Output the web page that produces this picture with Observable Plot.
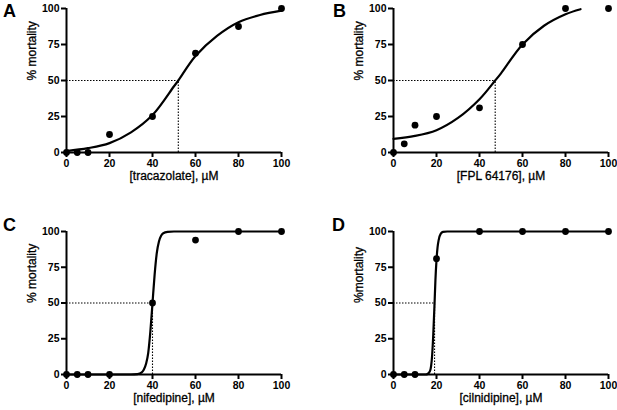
<!DOCTYPE html>
<html><head><meta charset="utf-8">
<script src="https://cdn.jsdelivr.net/npm/d3@7"></script>
<script src="https://cdn.jsdelivr.net/npm/@observablehq/plot@0.6"></script>
<style>
body{margin:0;background:#fff;}
#wrap{position:relative;width:617px;height:410px;overflow:hidden;background:#fff;font-family:"Liberation Sans",Arial,sans-serif;}
.panel{position:absolute;}
.panel svg{overflow:visible;}
.letter{position:absolute;font-weight:bold;font-size:18px;line-height:1;color:#000;}
</style></head><body><div id="wrap"></div>
<script>
// Measured doses (µM)
const dose = [0, 5, 10, 20, 40, 60, 80, 100];
// Observed % mortality
const mortA = [0, 0, 0, 12.5, 25, 69, 87.5, 100];
const mortB = [0, 6, 19, 25, 31, 75, 100, 100];
const mortC = [0, 0, 0, 0, 50, 94, 100, 100];
const mortD = [0, 0, 0, 81, 100, 100, 100, 100];

// Fitted curves
const fitAx = [0, 10, 20, 30, 40, 50, 52, 60, 70, 80, 90, 100];
const fitAy = [1, 3, 6.5, 14, 26, 46, 50, 67, 81, 90.5, 95.5, 98.5];
const fitBx = [0, 10, 20, 30, 40, 47.3, 50, 60, 70, 80, 87];
const fitBy = [9.5, 11.5, 15.5, 24, 37, 50, 55, 75, 88, 96, 99.5];
const fitCx = [0, 30, 33, 35, 36, 37, 38, 39, 40, 41, 42, 43, 44, 45, 47, 50, 100];
const fitCy = [0, 0, 0.3, 1.5, 3.5, 7.5, 15, 30, 50, 70, 85, 93, 97, 98.8, 99.7, 100, 100];
const fitDx = [0, 15, 16, 17, 17.5, 18, 18.5, 19.1, 19.5, 20, 20.5, 21, 22, 23, 25, 100];
const fitDy = [0, 0, 0.5, 2.5, 6, 14, 28, 50, 66, 80, 89, 94, 98.5, 99.7, 100, 100];

// EC50 values (dotted guide lines)
const ec50 = [52, 47.3, 40, 19.1];

const panelLetters = ["A", "B", "C", "D"];
const xTitles = ["[tracazolate], µM", "[FPL 64176], µM", "[nifedipine], µM", "[cilnidipine], µM"];
const yTitles = ["% mortality", "% mortality", "% mortality", "%mortality"];
const xTicks = [0, 20, 40, 60, 80, 100];
const yTicks = [0, 25, 50, 75, 100];

const obs = [mortA, mortB, mortC, mortD];
const fits = [[fitAx, fitAy], [fitBx, fitBy], [fitCx, fitCy], [fitDx, fitDy]];
const curveTypes = ["catmull-rom", "catmull-rom", "monotone-x", "monotone-x"];

const layout = [
  {left: 0, top: 0, w: 308, ml: 66, mr: 27, mt: 8, mb: 53, lx: 3, ly: 2},
  {left: 308, top: 0, w: 309, ml: 85, mr: 9, mt: 8, mb: 53, lx: 333, ly: 2},
  {left: 0, top: 205, w: 308, ml: 66, mr: 27, mt: 26, mb: 36, lx: 3, ly: 216},
  {left: 308, top: 205, w: 309, ml: 85, mr: 9, mt: 26, mb: 36, lx: 332, ly: 216}
];

const wrap = document.getElementById("wrap");
const font = "Liberation Sans, Arial, sans-serif";

layout.forEach((L, i) => {
  const pts = dose.map((x, j) => ({x, y: obs[i][j]}));
  const curve = fits[i][0].map((x, j) => ({x, y: fits[i][1][j]}));
  const ec = ec50[i];
  const chart = Plot.plot({
    width: L.w,
    height: 205,
    marginLeft: L.ml, marginRight: L.mr, marginTop: L.mt, marginBottom: L.mb,
    style: {fontFamily: font, background: "transparent", color: "#000", overflow: "visible"},
    x: {domain: [0, 100]},
    y: {domain: [0, 100]},
    marks: [
      Plot.ruleY([50], {x1: 0, x2: ec, stroke: "#000", strokeWidth: 1.1, strokeDasharray: "1.5,1.5"}),
      Plot.ruleX([ec], {y1: 0, y2: 50, stroke: "#000", strokeWidth: 1.1, strokeDasharray: "1.5,1.5"}),
      Plot.line(curve, {x: "x", y: "y", stroke: "#000", strokeWidth: 2.2, curve: curveTypes[i]}),
      Plot.axisX({ticks: xTicks, tickSize: 5, tickPadding: 2, strokeWidth: 2, fontSize: 10.5, fontWeight: "bold", label: null}),
      Plot.axisY({ticks: yTicks, tickSize: 5, tickPadding: 2, strokeWidth: 2, fontSize: 10.5, fontWeight: "bold", label: null}),
      Plot.ruleY([0], {stroke: "#000", strokeWidth: 2}),
      Plot.ruleX([0], {stroke: "#000", strokeWidth: 2}),
      Plot.dot(pts, {x: "x", y: "y", r: 3.4, fill: "#000", stroke: "none"}),
      Plot.text([xTitles[i]], {text: d => d, frameAnchor: "bottom", dy: 27, fontSize: 12, fill: "#000", stroke: "#000", strokeWidth: 0.3}),
      Plot.text([yTitles[i]], {text: d => d, frameAnchor: "left", dx: -34, rotate: -90, fontSize: 12, fill: "#000", stroke: "#000", strokeWidth: 0.3})
    ]
  });
  const div = document.createElement("div");
  div.className = "panel";
  div.style.left = L.left + "px";
  div.style.top = L.top + "px";
  div.appendChild(chart);
  wrap.appendChild(div);
  const lt = document.createElement("div");
  lt.className = "letter";
  lt.style.left = L.lx + "px";
  lt.style.top = L.ly + "px";
  lt.textContent = panelLetters[i];
  wrap.appendChild(lt);
});
</script>
</body></html>
